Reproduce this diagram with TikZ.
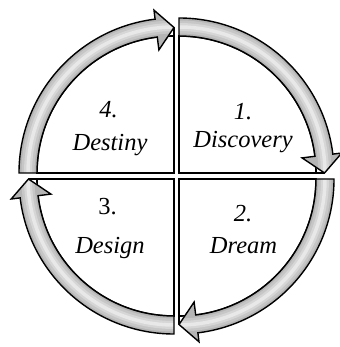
\documentclass[tikz,border=0pt]{standalone}
\usepackage{fontspec}
\setmainfont{Liberation Serif}
\tikzset{
  sectorline/.style={draw=black, line width=1.6pt, fill=white, line join=miter},
  bandline/.style={draw=black, line width=1.4pt, line join=miter},
  lbl/.style={anchor=base, inner sep=0pt, font=\fontsize{24.5}{28}\selectfont}
}
\newcommand\bandpath[1]{(#1:155) arc[start angle=#1, end angle=#1-83, radius=155] -- (#1-83:164) -- (#1-90:145.5) -- (#1-83:124) -- (#1-83:137) arc[start angle=#1-83, end angle=#1, radius=137] -- cycle}
\newcommand\quadsector[2]{%
  \begin{scope}[shift={#1}]
    \draw[sectorline] (0,0) -- (#2:137) arc[start angle=#2, end angle=#2-90, radius=137] -- (#2-90:145.5) -- cycle;
  \end{scope}}
\newcommand\quadband[2]{%
  \begin{scope}[shift={#1}]
    \fill[gray!58] \bandpath{#2};
    \begin{scope}
      \clip \bandpath{#2};
      \draw[gray!45, line width=13pt] (#2:146) arc[start angle=#2, end angle=#2-90, radius=146];
      \draw[gray!32, line width=8pt] (#2:146) arc[start angle=#2, end angle=#2-90, radius=146];
      \draw[gray!18, line width=3.5pt] (#2:146) arc[start angle=#2, end angle=#2-90, radius=146];
    \end{scope}
    \draw[bandline] \bandpath{#2};
  \end{scope}}
\begin{document}
\begin{tikzpicture}[x=1pt,y=1pt]
\useasboundingbox (0,0) rectangle (339,347);
\coordinate (c1) at (179,174);
\coordinate (c2) at (179,168);
\coordinate (c3) at (174,168);
\coordinate (c4) at (174,174);
\quadsector{(c1)}{90}
\quadsector{(c2)}{0}
\quadsector{(c3)}{-90}
\quadsector{(c4)}{180}
\quadband{(c1)}{90}
\quadband{(c2)}{0}
\quadband{(c3)}{-90}
\quadband{(c4)}{180}
\node[lbl] (n4) at (108.5,229) {\itshape 4.};
\node[lbl] (t4) at (110,196) {\itshape Destiny};
\node[lbl] (n1) at (243,227) {\itshape 1.};
\node[lbl] (t1) at (243,199) {\itshape Discovery};
\node[lbl] (n2) at (243,125) {\itshape 2.};
\node[lbl] (t2) at (243.5,93) {\itshape Dream};
\node[lbl] (n3) at (107.5,132) {3.};
\node[lbl] (t3) at (110,93) {\itshape Design};
\end{tikzpicture}
\end{document}
